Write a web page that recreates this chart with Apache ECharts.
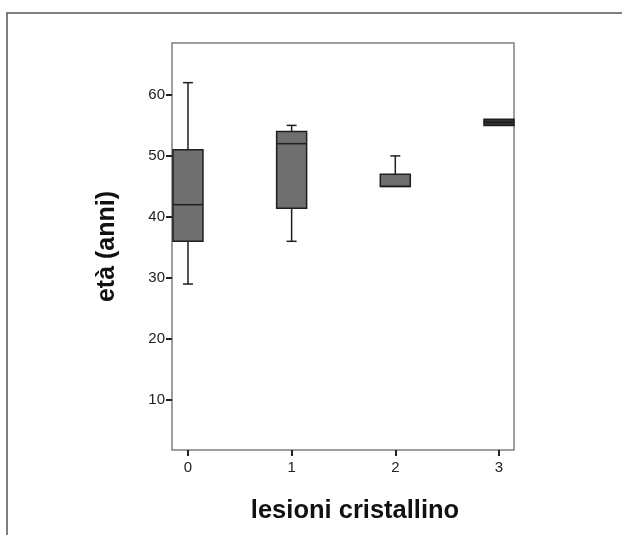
<!DOCTYPE html>
<html>
<head>
<meta charset="utf-8">
<script src="https://cdn.jsdelivr.net/npm/echarts@6/dist/echarts.min.js"></script>
<style>html,body{margin:0;padding:0;background:#fff;}#c{width:622px;height:535px;}</style>
</head>
<body>
<div id="c"></div>
<script>
// Categories (lesioni cristallino)
var categories = [0, 1, 2, 3];
// Box statistics per category: [low whisker, Q1, median, Q3, high whisker]
var lowWhisker = [29, 36, 45, 55];
var q1 = [36, 41.4, 45, 55];
var median = [42, 52, 45, 55.5];
var q3 = [51, 54, 47, 56];
var highWhisker = [62, 55, 50, 56];
// Tick labels
var yTicks = [10, 20, 30, 40, 50, 60];
var xTicks = [0, 1, 2, 3];

var data = categories.map(function (c, i) {
  return [c, lowWhisker[i], q1[i], median[i], q3[i], highWhisker[i]];
});

var chart = echarts.init(document.getElementById('c'), null, {renderer: 'canvas'});
var tickFont = "'Liberation Sans',Arial,sans-serif";
var titleFont = "'Liberation Sans',Arial,sans-serif";

chart.setOption({
  animation: false,
  backgroundColor: '#fff',
  graphic: [{
    type: 'rect', silent: true,
    shape: {x: 7, y: 13, width: 700, height: 600},
    style: {fill: 'none', stroke: '#555', lineWidth: 1.5}
  }],
  grid: {
    left: 172, top: 43, right: 108, bottom: 85,
    show: true, borderColor: '#808080', borderWidth: 1.5, backgroundColor: '#fff'
  },
  xAxis: {
    type: 'value', min: -0.154, max: 3.145,
    name: 'lesioni cristallino', nameLocation: 'middle', nameGap: 48,
    nameTextStyle: {fontFamily: titleFont, fontWeight: 'bold', fontSize: 25.5, color: '#111', padding: [0, 0, 0, 24]},
    axisLine: {show: false, onZero: false},
    splitLine: {show: false},
    axisTick: {show: true, customValues: xTicks, length: 6, lineStyle: {color: '#222', width: 2}},
    axisLabel: {customValues: xTicks, fontFamily: tickFont, fontSize: 15, color: '#222', margin: 10}
  },
  yAxis: {
    type: 'value', min: 1.8, max: 68.5,
    name: 'età (anni)', nameLocation: 'middle', nameGap: 52, nameRotate: 90,
    nameTextStyle: {fontFamily: titleFont, fontWeight: 'bold', fontSize: 25, color: '#111'},
    axisLine: {show: false, onZero: false},
    splitLine: {show: false},
    axisTick: {show: true, customValues: yTicks, length: 6, lineStyle: {color: '#222', width: 2}},
    axisLabel: {customValues: yTicks, fontFamily: tickFont, fontSize: 15, color: '#222', margin: 7}
  },
  series: [{
    type: 'custom',
    data: data,
    encode: {x: 0, y: [1, 2, 3, 4, 5]},
    renderItem: function (params, api) {
      var x = api.value(0);
      var pLow = api.coord([x, api.value(1)]);
      var pQ1 = api.coord([x, api.value(2)]);
      var pMed = api.coord([x, api.value(3)]);
      var pQ3 = api.coord([x, api.value(4)]);
      var pHigh = api.coord([x, api.value(5)]);
      var cx = pQ1[0];
      var bw = 30, cw = 10;
      var stroke = '#1e1e1e';
      var ls = {stroke: stroke, lineWidth: 1.5};
      var children = [];
      if (pHigh[1] < pQ3[1] - 0.5) {
        children.push({type: 'line', shape: {x1: cx, y1: pQ3[1], x2: cx, y2: pHigh[1]}, style: ls});
        children.push({type: 'line', shape: {x1: cx - cw / 2, y1: pHigh[1], x2: cx + cw / 2, y2: pHigh[1]}, style: ls});
      }
      if (pLow[1] > pQ1[1] + 0.5) {
        children.push({type: 'line', shape: {x1: cx, y1: pQ1[1], x2: cx, y2: pLow[1]}, style: ls});
        children.push({type: 'line', shape: {x1: cx - cw / 2, y1: pLow[1], x2: cx + cw / 2, y2: pLow[1]}, style: ls});
      }
      var h = pQ1[1] - pQ3[1];
      children.push({type: 'rect', shape: {x: cx - bw / 2, y: pQ3[1], width: bw, height: h},
        style: {fill: h < 8 ? '#333' : '#6f6f6f', stroke: stroke, lineWidth: 1.5}});
      children.push({type: 'line', shape: {x1: cx - bw / 2, y1: pMed[1], x2: cx + bw / 2, y2: pMed[1]}, style: ls});
      return {type: 'group', children: children};
    }
  }]
});
</script>
</body>
</html>
